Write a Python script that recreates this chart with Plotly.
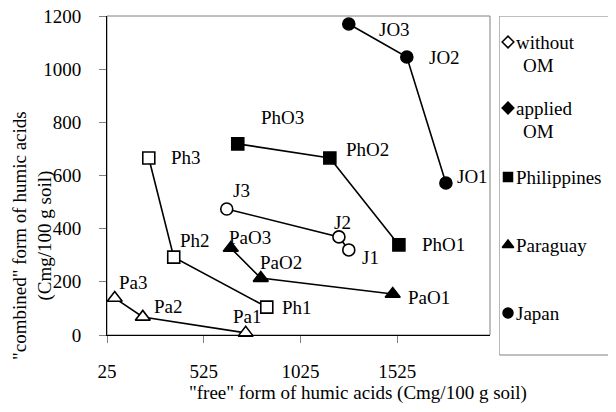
import plotly.graph_objects as go

# ---- data (free HA x, combined HA y) ----
jp_without_labels = ["J1", "J2", "J3"]
jp_without_x = [1275, 1224, 644]
jp_without_y = [320, 369, 474]

jp_with_labels = ["JO1", "JO2", "JO3"]
jp_with_x = [1777, 1575, 1275]
jp_with_y = [572, 1046, 1170]

ph_without_labels = ["Ph1", "Ph2", "Ph3"]
ph_without_x = [851, 370, 241]
ph_without_y = [105, 293, 666]

ph_with_labels = ["PhO1", "PhO2", "PhO3"]
ph_with_x = [1534, 1177, 701]
ph_with_y = [339, 666, 719]

pa_without_labels = ["Pa1", "Pa2", "Pa3"]
pa_without_x = [742, 210, 65]
pa_without_y = [8, 68, 139]

pa_with_labels = ["PaO1", "PaO2", "PaO3"]
pa_with_x = [1502, 820, 665]
pa_with_y = [154, 214, 327]

x_ticks = [25, 525, 1025, 1525]
y_ticks = [0, 200, 400, 600, 800, 1000, 1200]

legend_labels = ["without", "applied", "Philippines", "Paraguay", "Japan"]

# label offsets (pixels) per point: (dx, dy) screen
label_offsets = {
    "J1": (22, 8), "J2": (4, -14), "J3": (15, -19),
    "JO1": (27, -6), "JO2": (38, 1), "JO3": (46, 6),
    "Ph1": (30, 0), "Ph2": (21, -17), "Ph3": (37, 0),
    "PhO1": (45, 0), "PhO2": (38, -8), "PhO3": (45, -26),
    "Pa1": (2, -16), "Pa2": (26, -10), "Pa3": (19, -16),
    "PaO1": (36, 3), "PaO2": (20, -16), "PaO3": (19, -11),
}

FONT = "Liberation Serif"
FS = 19
TXT = dict(family=FONT, size=FS, color="#000000")
OFF = 8  # page body margin
W, H = 616 - OFF, 412 - OFF
ML, MR, MT, MB = 107 - OFF, 0, 16 - OFF, 56
PW, PH = W - ML - MR, H - MT - MB

def page2paper(px, py):
    fx, fy = px - OFF, py - OFF
    return (fx - ML) / PW, (H - MB - fy) / PH

series = [
    (jp_without_labels, jp_without_x, jp_without_y, "circle-open"),
    (jp_with_labels, jp_with_x, jp_with_y, "circle"),
    (ph_without_labels, ph_without_x, ph_without_y, "square-open"),
    (ph_with_labels, ph_with_x, ph_with_y, "square"),
    (pa_without_labels, pa_without_x, pa_without_y, "triangle-up-open"),
    (pa_with_labels, pa_with_x, pa_with_y, "triangle-up"),
]

fig = go.Figure()
annotations = []
for labels, xs, ys, sym in series:
    is_open = sym.endswith("open")
    fig.add_trace(go.Scatter(
        x=xs, y=ys, mode="lines+markers", showlegend=False,
        line=dict(color="black", width=1.6),
        marker=dict(symbol=sym.replace("-open", ""), size=12 if "triangle" not in sym else 13,
                    color="white" if is_open else "black",
                    line=dict(color="black", width=1.6)),
        cliponaxis=False,
    ))
    for lab, xv, yv in zip(labels, xs, ys):
        dx, dy = label_offsets[lab]
        annotations.append(dict(
            x=xv, y=yv, xref="x", yref="y", text=lab, showarrow=False,
            xanchor="center", yanchor="middle", xshift=dx, yshift=-dy, font=TXT))

# ---- manual legend (pixel-based overlay axes, page coords) ----
box_l, box_r, box_t, box_b = 499.3, 615.5, 16, 355
leg_marker_y = [42, 108, 177, 245, 313]
leg_symbols = ["diamond-open", "diamond", "square", "triangle-up", "circle"]
for s, yv, sz in zip(leg_symbols, leg_marker_y, [9, 9, 9, 10, 10]):
    fig.add_trace(go.Scatter(
        x=[508 - box_l], y=[yv - box_t],
        xaxis="x2", yaxis="y2", mode="markers", showlegend=False, hoverinfo="skip",
        marker=dict(symbol=s.replace("-open", ""), size=sz,
                    color="white" if s.endswith("open") else "black",
                    line=dict(color="black", width=1.5)),
        cliponaxis=False,
    ))
for lab, yv in zip(legend_labels, leg_marker_y):
    annotations.append(dict(x=514 - box_l, y=yv - box_t, xref="x2", yref="y2", text=lab,
                            showarrow=False, xanchor="left", yanchor="middle", font=TXT))
for yv in leg_marker_y[:2]:
    annotations.append(dict(x=520.5 - box_l, y=yv + 23 - box_t, xref="x2", yref="y2", text="OM",
                            showarrow=False, xanchor="left", yanchor="middle", font=TXT))

# axis titles
tx, ty = page2paper(358, 393)
annotations.append(dict(x=tx, y=ty, xref="paper", yref="paper", showarrow=False,
                        text='"free" form of humic acids (Cmg/100 g soil)',
                        xanchor="center", yanchor="middle", font=TXT))
yx, yy = page2paper(33, 236)
annotations.append(dict(x=yx, y=yy, xref="paper", yref="paper", showarrow=False,
                        text='"combined" form of humic acids<br>(Cmg/100 g soil)', textangle=-90,
                        xanchor="center", yanchor="middle", font=TXT))

plot_r, plot_b = 490 - OFF, 335 - OFF
x_dom = [0, (plot_r - ML) / PW]
y_dom = [(H - MB - plot_b) / PH, 1]

bl = box_l - OFF
br = box_r - OFF
bt = box_t - OFF
bb = box_b - OFF

shapes = [
    dict(type="rect", xref="paper", yref="paper", x0=x_dom[0], x1=x_dom[1], y0=y_dom[0], y1=y_dom[1],
         line=dict(color="#808080", width=1), layer="below"),
    dict(type="rect", xref="x2", yref="y2", x0=0, x1=box_r - box_l, y0=0, y1=box_b - box_t,
         line=dict(color="#808080", width=1)),
]

fig.update_layout(
    template="none",
    width=W, height=H, margin=dict(l=ML, r=MR, t=MT, b=MB),
    paper_bgcolor="white", plot_bgcolor="white",
    font=TXT,
    annotations=annotations, shapes=shapes, showlegend=False,
    xaxis=dict(domain=x_dom, range=[25, 2005], tickvals=x_ticks, ticks="outside", ticklen=7,
               tickcolor="#808080", showline=True, linecolor="black", linewidth=1,
               showgrid=False, zeroline=False, ticklabelstandoff=12, ticklabeloverflow="allow",
               tickfont=TXT),
    yaxis=dict(domain=y_dom, range=[0, 1200], tickvals=y_ticks, ticks="outside", ticklen=7,
               tickcolor="#808080", showline=True, linecolor="black", linewidth=1,
               showgrid=False, zeroline=False, ticklabelstandoff=14, ticklabeloverflow="allow",
               tickfont=TXT),
    xaxis2=dict(domain=[(bl - ML) / PW, min(1, (br - ML) / PW)], range=[0, box_r - box_l],
                visible=False, fixedrange=True, anchor="y2"),
    yaxis2=dict(domain=[(H - MB - bb - 1) / PH, (H - MB - bt) / PH], range=[box_b - box_t + 1, 0],
                visible=False, fixedrange=True, anchor="x2"),
)

fig.write_html("out.html")
